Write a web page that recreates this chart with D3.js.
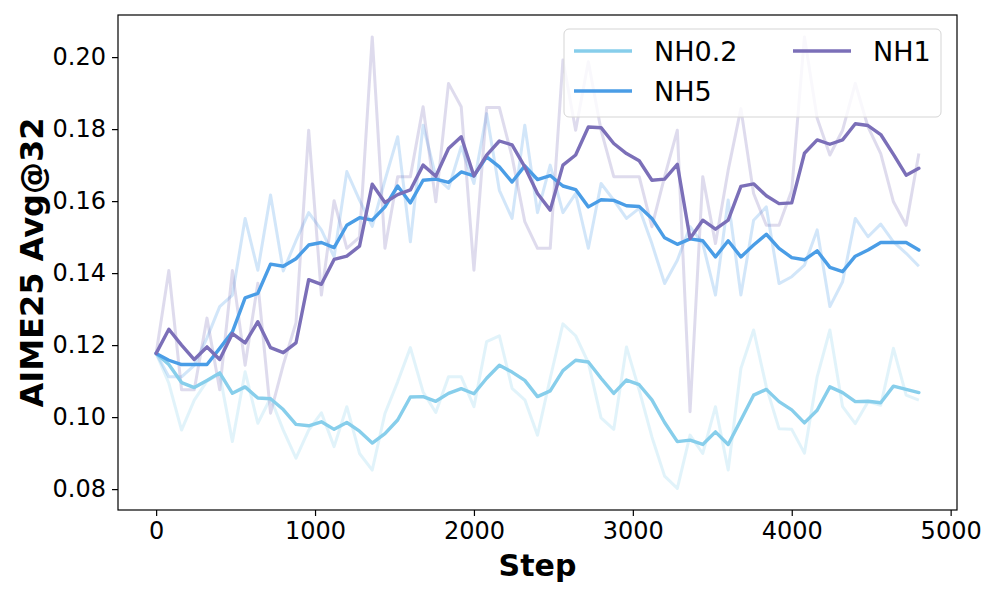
<!DOCTYPE html>
<html>
<head>
<meta charset="utf-8">
<script src="https://cdn.jsdelivr.net/npm/d3@7"></script>
<style>
  body { margin: 0; background: #fff; }
  svg { font-family: "DejaVu Sans", sans-serif; }
</style>
</head>
<body>
<svg id="chart" width="996" height="598"></svg>
<script>
const steps = [0, 80, 160, 240, 320, 400, 480, 560, 640, 720, 800, 880, 960, 1040, 1120, 1200,
  1280, 1360, 1440, 1520, 1600, 1680, 1760, 1840, 1920, 2000, 2080, 2160, 2240, 2320, 2400,
  2480, 2560, 2640, 2720, 2800, 2880, 2960, 3040, 3120, 3200, 3280, 3360, 3440, 3520, 3600,
  3680, 3760, 3840, 3920, 4000, 4080, 4160, 4240, 4320, 4400, 4480, 4560, 4640, 4720, 4800];

// raw values (faint lines)
const nh02Raw = [0.1177, 0.1094, 0.0964, 0.1047, 0.1100, 0.1120, 0.0932, 0.1126, 0.0983, 0.1053,
  0.0964, 0.0886, 0.0964, 0.1012, 0.0918, 0.1029, 0.0899, 0.0853, 0.1010, 0.1098,
  0.1193, 0.1070, 0.1013, 0.1112, 0.1112, 0.1029, 0.1210, 0.1226, 0.1080, 0.1048,
  0.0950, 0.1108, 0.1259, 0.1226, 0.1151, 0.0998, 0.0966, 0.1195, 0.1075, 0.0945,
  0.0836, 0.0802, 0.0950, 0.0899, 0.1029, 0.0853, 0.1135, 0.1242, 0.1084, 0.0968,
  0.0966, 0.0900, 0.1112, 0.1242, 0.1029, 0.0982, 0.1043, 0.1033, 0.1191, 0.1061, 0.1047];
const nh5Raw = [0.1177, 0.1112, 0.1112, 0.1144, 0.1220, 0.1307, 0.1339, 0.1552, 0.1408, 0.1617,
  0.1406, 0.1490, 0.1568, 0.1520, 0.1445, 0.1682, 0.1603, 0.1530, 0.1658, 0.1779,
  0.1487, 0.1811, 0.1668, 0.1635, 0.1751, 0.1649, 0.1843, 0.1630, 0.1552, 0.1811,
  0.1568, 0.1700, 0.1568, 0.1621, 0.1469, 0.1649, 0.1603, 0.1552, 0.1580, 0.1482,
  0.1371, 0.1436, 0.1529, 0.1482, 0.1339, 0.1603, 0.1339, 0.1547, 0.1584, 0.1371,
  0.1390, 0.1422, 0.1520, 0.1307, 0.1376, 0.1552, 0.1501, 0.1536, 0.1487, 0.1455, 0.1419];
const nh1Raw = [0.1177, 0.1407, 0.1076, 0.1076, 0.1275, 0.1076, 0.1407, 0.1144, 0.1372, 0.1011,
  0.1145, 0.1262, 0.1797, 0.1339, 0.1601, 0.1469, 0.1500, 0.2056, 0.1469, 0.1668,
  0.1668, 0.1862, 0.1598, 0.1927, 0.1862, 0.1408, 0.1860, 0.1860, 0.1723, 0.1543,
  0.1469, 0.1469, 0.1992, 0.1797, 0.1987, 0.1797, 0.1668, 0.1668, 0.1668, 0.1529,
  0.1668, 0.1797, 0.1015, 0.1668, 0.1482, 0.1686, 0.1857, 0.1621, 0.1533, 0.1533,
  0.1630, 0.2056, 0.1830, 0.1728, 0.1797, 0.1927, 0.1806, 0.1732, 0.1598, 0.1533, 0.1732];

// smoothed values (solid lines)
const nh02Smooth = [0.1177, 0.1146, 0.1096, 0.1082, 0.1102, 0.1123, 0.1066, 0.1084, 0.1053, 0.1051,
  0.1021, 0.0980, 0.0976, 0.0987, 0.0966, 0.0985, 0.0961, 0.0928, 0.0954, 0.0992,
  0.1056, 0.1057, 0.1044, 0.1066, 0.1079, 0.1065, 0.1108, 0.1144, 0.1125, 0.1102,
  0.1057, 0.1073, 0.1129, 0.1158, 0.1153, 0.1108, 0.1066, 0.1103, 0.1090, 0.1048,
  0.0985, 0.0932, 0.0936, 0.0924, 0.0959, 0.0924, 0.0992, 0.1061, 0.1077, 0.1043,
  0.1020, 0.0984, 0.1019, 0.1084, 0.1068, 0.1043, 0.1044, 0.1040, 0.1086, 0.1077, 0.1068];
const nh5Smooth = [0.1177, 0.1158, 0.1146, 0.1146, 0.1146, 0.1191, 0.1237, 0.1331, 0.1344, 0.1425,
  0.1419, 0.1440, 0.1478, 0.1485, 0.1471, 0.1533, 0.1554, 0.1547, 0.1584, 0.1642,
  0.1595, 0.1658, 0.1661, 0.1652, 0.1681, 0.1670, 0.1723, 0.1695, 0.1653, 0.1698,
  0.1660, 0.1671, 0.1642, 0.1632, 0.1584, 0.1604, 0.1602, 0.1587, 0.1585, 0.1552,
  0.1498, 0.1480, 0.1495, 0.1490, 0.1445, 0.1490, 0.1445, 0.1478, 0.1508, 0.1469,
  0.1443, 0.1437, 0.1462, 0.1416, 0.1404, 0.1447, 0.1464, 0.1485, 0.1485, 0.1485, 0.1464];
const nh1Smooth = [0.1177, 0.1244, 0.1200, 0.1160, 0.1195, 0.1160, 0.1232, 0.1206, 0.1265, 0.1193,
  0.1179, 0.1206, 0.1382, 0.1369, 0.1438, 0.1447, 0.1475, 0.1647, 0.1596, 0.1618,
  0.1631, 0.1700, 0.1669, 0.1746, 0.1779, 0.1670, 0.1728, 0.1767, 0.1756, 0.1695,
  0.1621, 0.1575, 0.1700, 0.1728, 0.1806, 0.1804, 0.1760, 0.1732, 0.1712, 0.1658,
  0.1661, 0.1702, 0.1496, 0.1547, 0.1522, 0.1547, 0.1641, 0.1648, 0.1615, 0.1593,
  0.1595, 0.1733, 0.1770, 0.1758, 0.1770, 0.1815, 0.1810, 0.1785, 0.1730, 0.1672, 0.1691];

const xTicks = [0, 1000, 2000, 3000, 4000, 5000];
const yTicks = [0.08, 0.10, 0.12, 0.14, 0.16, 0.18, 0.20];

const series = [
  { name: "NH0.2", color: "#87ceeb", raw: nh02Raw, smooth: nh02Smooth },
  { name: "NH5", color: "#4a9de6", raw: nh5Raw, smooth: nh5Smooth },
  { name: "NH1", color: "#7b6fb8", raw: nh1Raw, smooth: nh1Smooth }
];

const plotL = 118, plotR = 957, plotT = 15, plotB = 510;
const svg = d3.select("#chart");

const x = d3.scaleLinear().domain([-240, 5040]).range([plotL, plotR]);
const y = d3.scaleLinear().domain([0.0742, 0.2117]).range([plotB, plotT]);

const line = d3.line()
  .x((d, i) => x(steps[i]))
  .y(d => y(d));

// faint raw lines first
series.forEach(s => {
  svg.append("path")
    .datum(s.raw)
    .attr("d", line)
    .attr("fill", "none")
    .attr("stroke", s.color)
    .attr("stroke-opacity", 0.25)
    .attr("stroke-width", 3)
    .attr("stroke-linejoin", "round");
});

series.forEach(s => {
  svg.append("path")
    .datum(s.smooth)
    .attr("d", line)
    .attr("fill", "none")
    .attr("stroke", s.color)
    .attr("stroke-width", 3.4)
    .attr("stroke-linejoin", "round")
    .attr("stroke-linecap", "round");
});

// axes
const xAxis = svg.append("g")
  .attr("transform", `translate(0,${plotB})`)
  .call(d3.axisBottom(x).tickValues(xTicks).tickSize(6).tickPadding(6).tickFormat(d3.format("d")));
const yAxis = svg.append("g")
  .attr("transform", `translate(${plotL},0)`)
  .call(d3.axisLeft(y).tickValues(yTicks).tickSize(6).tickPadding(6).tickFormat(d3.format(".2f")));

[xAxis, yAxis].forEach(g => {
  g.select(".domain").remove();
  g.selectAll("line").attr("stroke", "#000").attr("stroke-width", 1.2);
  g.selectAll("text").attr("font-size", 24).attr("fill", "#000")
    .attr("font-family", "DejaVu Sans, sans-serif");
});

svg.append("rect")
  .attr("x", plotL).attr("y", plotT)
  .attr("width", plotR - plotL).attr("height", plotB - plotT)
  .attr("fill", "none").attr("stroke", "#000").attr("stroke-width", 1.2);

svg.append("text")
  .attr("x", (plotL + plotR) / 2).attr("y", 576)
  .attr("text-anchor", "middle")
  .attr("font-size", 30).attr("font-weight", "bold")
  .text("Step");

svg.append("text")
  .attr("transform", `translate(43,${(plotT + plotB) / 2}) rotate(-90)`)
  .attr("text-anchor", "middle")
  .attr("font-size", 32).attr("font-weight", "bold")
  .text("AIME25 Avg@32");

// legend
const legend = svg.append("g");
legend.append("rect")
  .attr("x", 564).attr("y", 29)
  .attr("width", 377).attr("height", 88)
  .attr("rx", 5)
  .attr("fill", "#fff").attr("fill-opacity", 0.8)
  .attr("stroke", "#d5d5d5").attr("stroke-width", 1);

const legendPos = [[574, 51], [574, 91], [793, 51]];
series.forEach((s, i) => {
  const [lx, ly] = legendPos[i];
  legend.append("line")
    .attr("x1", lx).attr("x2", lx + 58)
    .attr("y1", ly).attr("y2", ly)
    .attr("stroke", s.color).attr("stroke-width", 3.6);
  legend.append("text")
    .attr("x", lx + 80).attr("y", ly)
    .attr("dy", "0.36em")
    .attr("font-size", 27)
    .text(s.name);
});
</script>
</body>
</html>
